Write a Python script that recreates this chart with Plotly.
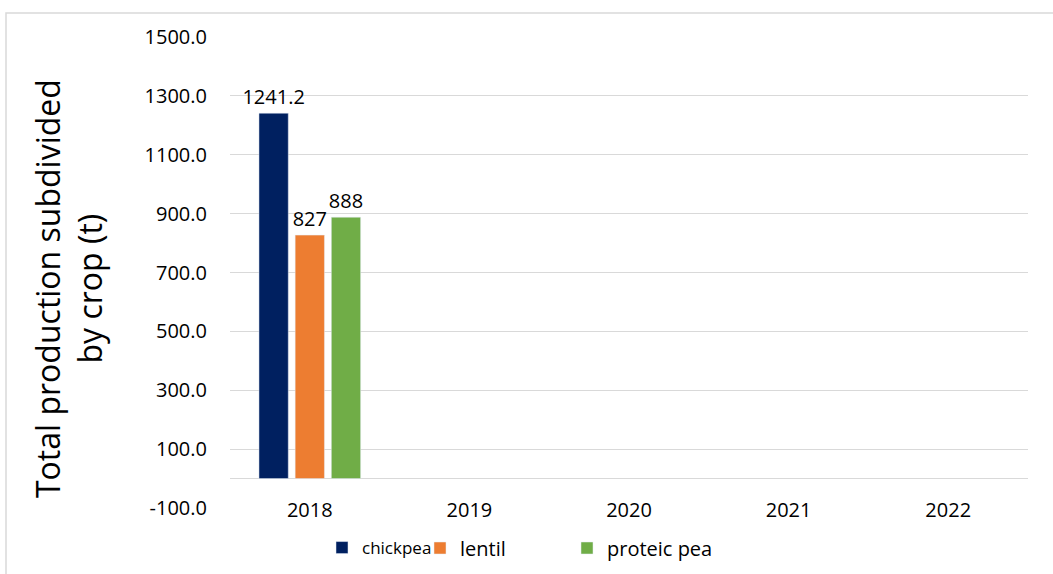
import plotly.graph_objects as go

years = ["2018", "2019", "2020", "2021", "2022"]
chickpea = [1241.2, None, None, None, None]
lentil = [827, None, None, None, None]
proteic_pea = [888, None, None, None, None]
chickpea_labels = ["1241.2", "", "", "", ""]
lentil_labels = ["827", "", "", "", ""]
pea_labels = ["888", "", "", "", ""]
y_tick_values = [-100, 100, 300, 500, 700, 900, 1100, 1300, 1500]
y_tick_labels = ["-100.0", "100.0", "300.0", "500.0", "700.0", "900.0", "1100.0", "1300.0", "1500.0"]
y_title = "Total production subdivided<br>by crop (t)"

FONT = "Open Sans"
W, H = 1053, 574
L, R, T, B = 230, 25, 37, 66
pw, ph = W - L - R, H - T - B

def px_x(x):
    return (x - L) / pw

def px_y(y):
    return (H - B - y) / ph

fig = go.Figure()
common_bar = dict(textposition="outside", cliponaxis=False, constraintext="none",
                  textfont=dict(size=20, color="#000000"))
fig.add_trace(go.Bar(x=years, y=chickpea, name="chickpea", marker_color="#002060",
                     text=chickpea_labels, legend="legend", **common_bar))
fig.add_trace(go.Bar(x=years, y=lentil, name="lentil", marker_color="#ED7D31",
                     text=lentil_labels, legend="legend2", **common_bar))
fig.add_trace(go.Bar(x=years, y=proteic_pea, name="proteic pea", marker_color="#70AD47",
                     text=pea_labels, legend="legend3", **common_bar))

leg_common = dict(orientation="h", yanchor="middle", yref="container", y=1 - 548 / H,
                  xanchor="left", xref="container",
                  bgcolor="rgba(0,0,0,0)", borderwidth=0)

fig.update_layout(
    width=W, height=H,
    margin=dict(l=L, r=R, t=T, b=B, autoexpand=False),
    paper_bgcolor="white", plot_bgcolor="white",
    showlegend=True,
    font=dict(family=FONT, size=20, color="#000000"),
    barmode="group", bargap=0.32, bargroupgap=0.19,
    legend=dict(**leg_common, x=(336 - 14) / W, font=dict(size=17, family=FONT)),
    legend2=dict(**leg_common, x=(434 - 14) / W, font=dict(size=20, family=FONT)),
    legend3=dict(**leg_common, x=(581 - 14) / W, font=dict(size=20, family=FONT)),
    xaxis=dict(showgrid=False, showline=False, ticks="", ticklabelstandoff=-12,
               tickfont=dict(size=20), automargin=False),
    yaxis=dict(range=[-100, 1500], tickmode="array", tickvals=y_tick_values,
               ticktext=y_tick_labels,
               showgrid=True, gridcolor="#D9D9D9", gridwidth=1,
               zeroline=True, zerolinecolor="#D9D9D9", zerolinewidth=1,
               showline=False, ticks="", ticklabelstandoff=22,
               tickfont=dict(size=20), automargin=False),
    annotations=[dict(text=y_title, textangle=-90, xref="paper", yref="paper",
                      x=px_x(68), y=px_y(289), xanchor="center", yanchor="middle",
                      showarrow=False, font=dict(size=32, family=FONT))],
    shapes=[dict(type="rect", xref="paper", yref="paper",
                 x0=px_x(6), x1=px_x(1070), y0=px_y(13), y1=px_y(590),
                 line=dict(color="#D9D9D9", width=1.5), fillcolor="rgba(0,0,0,0)",
                 layer="below")],
)

fig.write_html("out.html")
